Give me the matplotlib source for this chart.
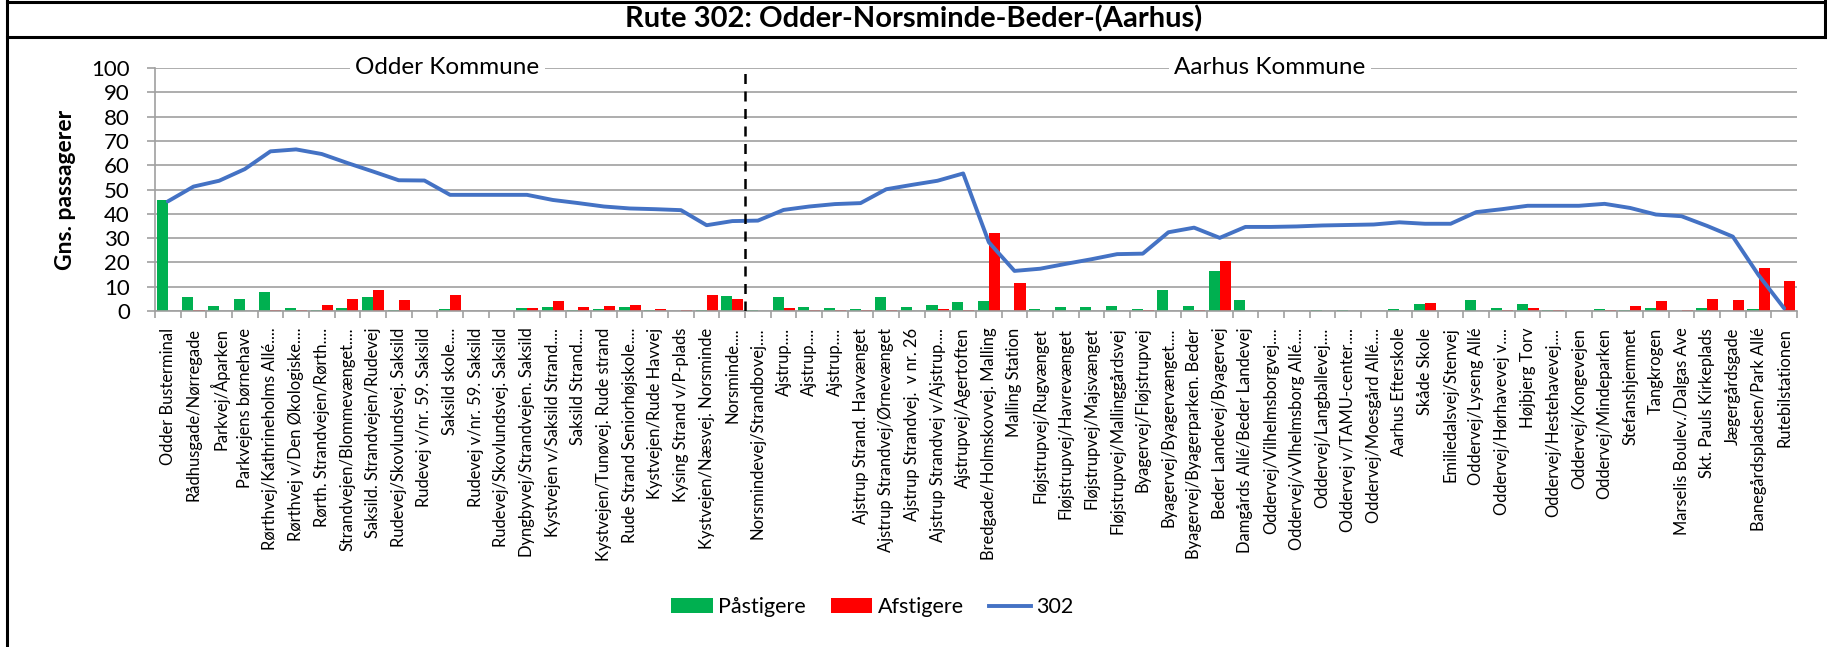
import matplotlib
matplotlib.use("Agg")
import matplotlib.pyplot as plt
import numpy as np
from matplotlib.lines import Line2D
from matplotlib.patches import Patch

plt.rcParams['font.family'] = ['Lato', 'DejaVu Sans']

stops = [
    "Odder Busterminal", "Rådhusgade/Nørregade", "Parkvej/Åparken", "Parkvejens børnehave",
    "Rørthvej/Kathrineholms Allé....", "Rørthvej v/Den Økologiske....", "Rørth. Strandvejen/Rørth....",
    "Strandvejen/Blommevænget....", "Saksild. Strandvejen/Rudevej", "Rudevej/Skovlundsvej. Saksild",
    "Rudevej v/nr. 59. Saksild", "Saksild skole....", "Rudevej v/nr. 59. Saksild",
    "Rudevej/Skovlundsvej. Saksild", "Dyngbyvej/Strandvejen. Saksild", "Kystvejen v/Saksild Strand....",
    "Saksild Strand....", "Kystvejen/Tunøvej. Rude strand", "Rude Strand Seniorhøjskole....",
    "Kystvejen/Rude Havvej", "Kysing Strand v/P-plads", "Kystvejen/Næsvej. Norsminde",
    "Norsminde....", "Norsmindevej/Strandbovej....", "Ajstrup....", "Ajstrup....", "Ajstrup....",
    "Ajstrup Strand. Havvænget", "Ajstrup Strandvej/Ørnevænget", "Ajstrup Strandvej.  v nr. 26",
    "Ajstrup Strandvej v/Ajstrup....", "Ajstrupvej/Agertoften", "Bredgade/Holmskovvej. Malling",
    "Malling Station", "Fløjstrupvej/Rugvænget", "Fløjstrupvej/Havrevænget", "Fløjstrupvej/Majsvænget",
    "Fløjstrupvej/Mallinggårdsvej", "Byagervej/Fløjstrupvej", "Byagervej/Byagervænget....",
    "Byagervej/Byagerparken. Beder", "Beder Landevej/Byagervej", "Damgårds Allé/Beder Landevej",
    "Oddervej/Vilhelmsborgvej....", "Oddervej/vVlhelmsborg Allé....", "Oddervej/Langballevej....",
    "Oddervej v/TAMU-center....", "Oddervej/Moesgård Allé....", "Aarhus Efterskole", "Skåde Skole",
    "Emiliedalsvej/Stenvej", "Oddervej/Lyseng Allé", "Oddervej/Hørhavevej v....", "Højbjerg Torv",
    "Oddervej/Hestehavevej....", "Oddervej/Kongevejen", "Oddervej/Mindeparken", "Stefanshjemmet",
    "Tangkrogen", "Marselis Boulev./Dalgas Ave", "Skt. Pauls Kirkeplads", "Jægergårdsgade",
    "Banegårdspladsen/Park Allé", "Rutebilstationen",
]

paastigere = [
    45.5, 5.8, 2.1, 4.8, 7.7, 1.2, 0.4, 1.1, 5.6, 0.5, 0.0, 0.8, 0.0, 0.0, 1.1, 1.8,
    0.4, 0.8, 1.5, 0.3, 0.0, 0.4, 6.3, 0.3, 5.6, 1.5, 1.2, 0.8, 5.9, 1.8, 2.5, 3.6,
    4.0, 0.0, 0.7, 1.8, 1.6, 2.1, 0.7, 8.5, 2.2, 16.5, 4.4, 0.0, 0.0, 0.3, 0.3, 0.0,
    0.7, 2.7, 0.0, 4.7, 1.1, 2.9, 0.3, 0.0, 0.8, 0.4, 1.2, 0.0, 1.1, 0.0, 1.0, 0.0,
]

afstigere = [
    0.0, 0.3, 0.0, 0.0, 0.4, 0.4, 2.5, 4.8, 8.7, 4.4, 0.1, 6.6, 0.0, 0.0, 1.1, 4.0,
    1.5, 2.1, 2.5, 0.7, 0.3, 6.6, 4.8, 0.0, 1.4, 0.3, 0.3, 0.4, 0.3, 0.0, 1.0, 0.4,
    32.3, 11.4, 0.0, 0.0, 0.0, 0.1, 0.4, 0.0, 0.3, 20.7, 0.0, 0.0, 0.0, 0.0, 0.0, 0.0,
    0.0, 3.3, 0.0, 0.0, 0.3, 1.1, 0.3, 0.0, 0.3, 1.9, 4.0, 0.5, 4.9, 4.5, 17.6, 12.4,
]

belastning = [
    45.1, 51.2, 53.6, 58.4, 65.7, 66.5, 64.6, 60.9, 57.4, 53.8, 53.7, 47.8, 47.8, 47.8, 47.8, 45.7,
    44.4, 43.0, 42.2, 41.9, 41.5, 35.3, 37.0, 37.2, 41.6, 43.0, 44.0, 44.4, 50.1, 51.9, 53.6, 56.6,
    28.3, 16.5, 17.4, 19.4, 21.3, 23.4, 23.6, 32.4, 34.3, 30.1, 34.6, 34.6, 34.8, 35.2, 35.4, 35.6,
    36.5, 35.9, 35.9, 40.7, 41.9, 43.3, 43.3, 43.3, 44.1, 42.4, 39.7, 39.0, 35.0, 30.6, 14.8, 1.1,
]

yticks = list(range(0, 101, 10))
title = "Rute 302: Odder-Norsminde-Beder-(Aarhus)"
region_labels = ["Odder Kommune", "Aarhus Kommune"]
series_names = ["Påstigere", "Afstigere", "302"]
boundary_after = "Norsminde...."

GREEN = "#00B050"
RED = "#FF0000"
BLUE = "#4472C4"
GRID = "#A0A0A0"

W, H = 1827, 647
fig = plt.figure(figsize=(W / 100, H / 100), dpi=100)
ax = fig.add_axes([155 / W, 1 - 311 / H, 1642 / W, 243 / H])

x = np.arange(len(stops))
bw = 0.43
ax.bar(x - bw / 2, paastigere, width=bw, color=GREEN, zorder=2)
ax.bar(x + bw / 2, afstigere, width=bw, color=RED, zorder=2)
ax.plot(x, belastning, color=BLUE, lw=2.8, zorder=3, solid_capstyle='round')

ax.set_xlim(-0.5, len(stops) - 0.5)
ax.set_ylim(0, 100)
ax.set_yticks(yticks)
ax.yaxis.grid(True, color=GRID, lw=1.2, zorder=0)
ax.set_axisbelow(True)

for s in ['top', 'right']:
    ax.spines[s].set_visible(False)
for s in ['left', 'bottom']:
    ax.spines[s].set_color(GRID)
    ax.spines[s].set_linewidth(1.2)

ax.tick_params(axis='y', length=6, width=1.2, color=GRID, pad=12, labelsize=16)
ax.set_xticks(x)
ax.set_xticklabels(stops, rotation=90, fontsize=11.9, ha='center', va='top')
ax.set_xticks(np.arange(-0.5, len(stops), 1.0), minor=True)
ax.tick_params(axis='x', which='major', length=0, pad=12)
ax.tick_params(axis='x', which='minor', length=5, width=1.2, color=GRID)

fig.text(66 / W, 1 - 190 / H, "Gns. passagerer", rotation=90, ha='center', va='center',
         fontsize=16.5, fontweight='bold')

# municipality boundary
bx = stops.index(boundary_after) + 0.5
ax.plot([bx, bx], [0, 100], color='black', lw=1.8, ls=(0, (4, 3)), zorder=4)

ax.text(10.9, 100, region_labels[0], ha='center', va='center', fontsize=17.5,
        bbox=dict(facecolor='white', edgecolor='none', pad=4), zorder=5)
ax.text(42.95, 100, region_labels[1], ha='center', va='center', fontsize=17.5,
        bbox=dict(facecolor='white', edgecolor='none', pad=4), zorder=5)

# legend
handles = [Patch(facecolor=GREEN, edgecolor='none'),
           Patch(facecolor=RED, edgecolor='none'),
           Line2D([0], [0], color=BLUE, lw=2.8)]
fig.legend(handles, series_names, loc='center', bbox_to_anchor=(872 / W, 1 - 607 / H),
           ncol=3, frameon=False, fontsize=15.5, handlelength=1.95, handleheight=0.65,
           handletextpad=0.25, columnspacing=1.15)

# title and frame
fig.text(0.5, 1 - 19 / H, title, ha='center', va='center', fontsize=21, fontweight='bold')
lw = 2.2
fig.add_artist(Line2D([7 / W, 1825 / W], [1 - 1.5 / H, 1 - 1.5 / H], color='black', lw=lw))
fig.add_artist(Line2D([7 / W, 1825 / W], [1 - 37 / H, 1 - 37 / H], color='black', lw=lw))
fig.add_artist(Line2D([7 / W, 7 / W], [0, 1], color='black', lw=lw))
fig.add_artist(Line2D([1825 / W, 1825 / W], [1 - 37 / H, 1], color='black', lw=lw))

fig.savefig("out.png", dpi=100)
